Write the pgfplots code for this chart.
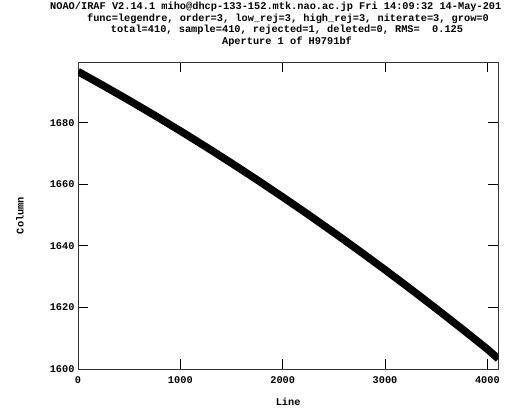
\documentclass[border=0pt]{standalone}
\usepackage{fontspec}
\setmainfont{Liberation Mono}
\usepackage{pgfplots}
\pgfplotsset{compat=1.18}
\begin{document}
\begin{tikzpicture}[x=1bp,y=1bp]
\path[use as bounding box] (0,0) rectangle (525,408);
\def\irf{\fontsize{10.3bp}{12bp}\selectfont\bfseries}
\begin{axis}[
  at={(78bp,39bp)}, anchor=south west,
  scale only axis, width=420.3bp, height=307bp,
  xmin=0, xmax=4107, ymin=1600, ymax=1699.8,
  xtick={0,1000,2000,3000,4000},
  ytick={1600,1620,1640,1660,1680},
  tick align=inside, major tick length=10bp,
  ticks=major,
  xtick pos=both, ytick pos=both,
  every tick/.style={black, line width=1bp},
  axis line style={black!80, line width=0.9bp},
  /pgf/number format/assume math mode=true,
  /pgf/number format/1000 sep={},
  tick label style={font=\irf},
  xticklabel style={yshift=-4bp},
  yticklabel style={xshift=0bp},
  xlabel={Line}, ylabel={Column},
  label style={font=\irf},
  xlabel style={at={(axis description cs:0.5,0)}, anchor=center, yshift=-32.5bp},
  ylabel style={at={(axis description cs:0,0.5)}, anchor=center, yshift=58bp},
]
\addplot[black, line width=7.5bp, line join=round] table {
x y
0 1696.70
250 1692.07
500 1687.31
750 1682.42
1000 1677.39
1250 1672.22
1500 1666.92
1750 1661.48
2000 1655.91
2250 1650.20
2500 1644.36
2750 1638.38
3000 1632.26
3250 1626.01
3500 1619.63
3750 1613.11
4000 1606.45
4107 1603.30
};
\end{axis}
\node[font=\irf, anchor=west, inner sep=0] at (50,401) {NOAO/IRAF V2.14.1 miho@dhcp-133-152.mtk.nao.ac.jp Fri 14:09:32 14-May-201};
\node[font=\irf, inner sep=0] at (288,389.5) {func=legendre, order=3, low\_rej=3, high\_rej=3, niterate=3, grow=0};
\node[font=\irf, inner sep=0] at (287,378) {total=410, sample=410, rejected=1, deleted=0, RMS=\ \ 0.125};
\node[font=\irf, inner sep=0] at (287,366.5) {Aperture 1 of H9791bf};
\end{tikzpicture}
\end{document}
